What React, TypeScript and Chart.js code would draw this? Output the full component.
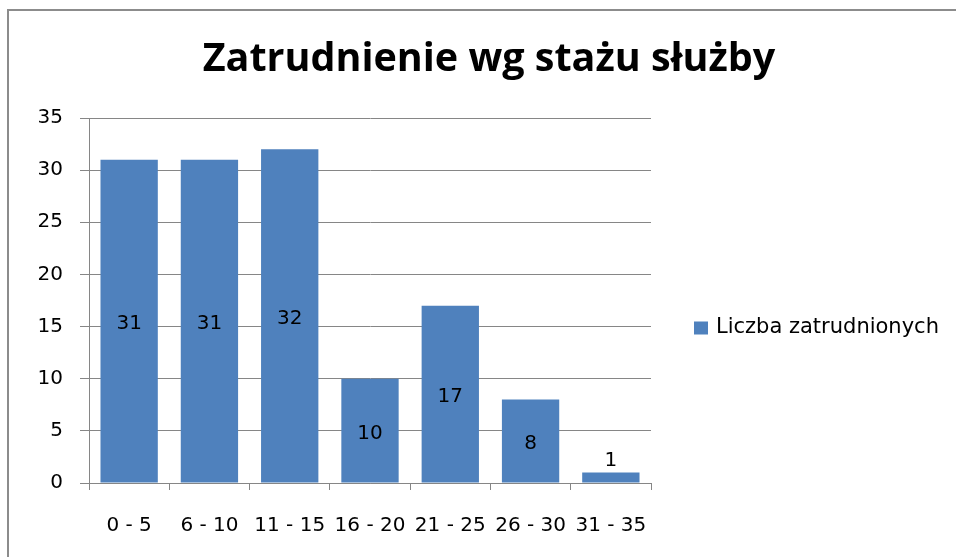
import React, { useEffect, useRef } from 'react';
import { Chart, registerables, layouts } from 'chart.js';

Chart.register(...registerables);

const TITLE = 'Zatrudnienie wg stażu służby';
const SERIES_LABEL = 'Liczba zatrudnionych';
const categories = ['0 - 5', '6 - 10', '11 - 15', '16 - 20', '21 - 25', '26 - 30', '31 - 35'];
const values = [31, 31, 32, 10, 17, 8, 1];
const yMin = 0;
const yMax = 35;
const yStep = 5;

const TITLE_FONT = '"Open Sans"';
const FONT = '"DejaVu Sans"';
const BAR_COLOR = '#4F81BD';
const GRID_COLOR = '#868686';
const TEXT_COLOR = '#000000';

const W = 956;
const H = 557;
const LEGEND_AREA_WIDTH = 305;

const dataLabels = {
  id: 'dataLabels',
  afterDatasetsDraw(chart: any) {
    const { ctx } = chart;
    const meta = chart.getDatasetMeta(0);
    const ds = chart.data.datasets[0];
    ctx.save();
    ctx.font = `20px ${FONT}`;
    ctx.fillStyle = TEXT_COLOR;
    ctx.textAlign = 'center';
    ctx.textBaseline = 'middle';
    meta.data.forEach((el: any, i: number) => {
      const { x, y, base } = el.getProps(['x', 'y', 'base'], true);
      const h = base - y;
      const ty = h > 28 ? (y + base) / 2 + 3 : y - 12;
      ctx.fillText(String(ds.data[i]), x, ty);
    });
    ctx.restore();
  },
};

// A right-hand layout box holding the legend (fixed width, like Excel's legend area)
const sideLegend = {
  id: 'sideLegend',
  beforeInit(chart: any) {
    const box: any = {
      position: 'right',
      weight: 1000,
      fullSize: false,
      options: { stackWeight: 1 },
      top: 0,
      left: 0,
      right: 0,
      bottom: 0,
      width: 0,
      height: 0,
      isHorizontal: () => false,
      update(_maxW: number, maxH: number) {
        box.width = LEGEND_AREA_WIDTH;
        box.height = maxH;
      },
      getPadding: () => ({ top: 0, left: 0, right: 0, bottom: 0 }),
      draw() {
        const { ctx, chartArea } = chart;
        const ds = chart.data.datasets[0];
        const cy = (chartArea.top + chartArea.bottom) / 2 + 27;
        const bx = box.left + 43;
        ctx.save();
        ctx.fillStyle = ds.backgroundColor;
        ctx.fillRect(bx, cy - 6, 14, 13);
        ctx.font = `21px ${FONT}`;
        ctx.fillStyle = TEXT_COLOR;
        ctx.textAlign = 'left';
        ctx.textBaseline = 'middle';
        ctx.fillText(ds.label, bx + 22, cy);
        ctx.restore();
      },
    };
    chart.$sideLegendBox = box;
    layouts.addBox(chart, box);
  },
  afterDestroy(chart: any) {
    if (chart.$sideLegendBox) layouts.removeBox(chart, chart.$sideLegendBox);
  },
};

export default function App() {
  const ref = useRef<HTMLCanvasElement | null>(null);

  useEffect(() => {
    const canvas = ref.current;
    if (!canvas) return;

    const chart = new Chart(canvas, {
      type: 'bar',
      data: {
        labels: categories,
        datasets: [
          {
            label: SERIES_LABEL,
            data: values,
            backgroundColor: BAR_COLOR,
            borderWidth: 0,
            categoryPercentage: 1,
            barPercentage: 0.714,
          },
        ],
      },
      options: {
        responsive: false,
        animation: false,
        devicePixelRatio: 1,
        layout: { padding: { left: 22, top: 0, bottom: 0, right: 0 } },
        plugins: {
          tooltip: { enabled: false },
          title: {
            display: true,
            text: TITLE,
            color: TEXT_COLOR,
            font: { family: TITLE_FONT, size: 39.5, weight: 'bold' },
            padding: { top: 36, bottom: 34.6 },
          },
          legend: { display: false },
        },
        scales: {
          x: {
            grid: {
              display: true,
              drawOnChartArea: false,
              drawTicks: true,
              tickLength: 7,
              color: GRID_COLOR,
              offset: true,
            },
            border: { display: true, color: GRID_COLOR, width: 1 },
            ticks: {
              color: TEXT_COLOR,
              font: { family: FONT, size: 20 },
              padding: 24,
              maxRotation: 0,
              minRotation: 0,
              autoSkip: false,
            },
            afterFit: (s: any) => {
              s.height = 74;
            },
          },
          y: {
            min: yMin,
            max: yMax,
            grid: {
              display: true,
              drawOnChartArea: true,
              drawTicks: true,
              tickLength: 9,
              color: GRID_COLOR,
            },
            border: { display: true, color: GRID_COLOR, width: 1 },
            ticks: {
              stepSize: yStep,
              color: TEXT_COLOR,
              font: { family: FONT, size: 20 },
              padding: 17,
            },
            afterFit: (s: any) => {
              s.width = 67;
            },
          },
        },
      },
      plugins: [dataLabels, sideLegend],
    });
    return () => chart.destroy();
  }, []);

  return (
    <div
      style={{
        position: 'absolute',
        left: 0,
        top: 0,
        width: W,
        height: H,
        overflow: 'hidden',
        background: '#ffffff',
      }}
    >
      <div
        style={{
          position: 'absolute',
          left: 7,
          top: 9,
          width: W + 40,
          height: H + 40,
          borderLeft: '2px solid #8c8c8c',
          borderTop: '2px solid #8c8c8c',
        }}
      />
      <canvas
        ref={ref}
        width={W}
        height={H}
        style={{ position: 'absolute', left: 0, top: 0, width: W, height: H }}
      />
    </div>
  );
}
